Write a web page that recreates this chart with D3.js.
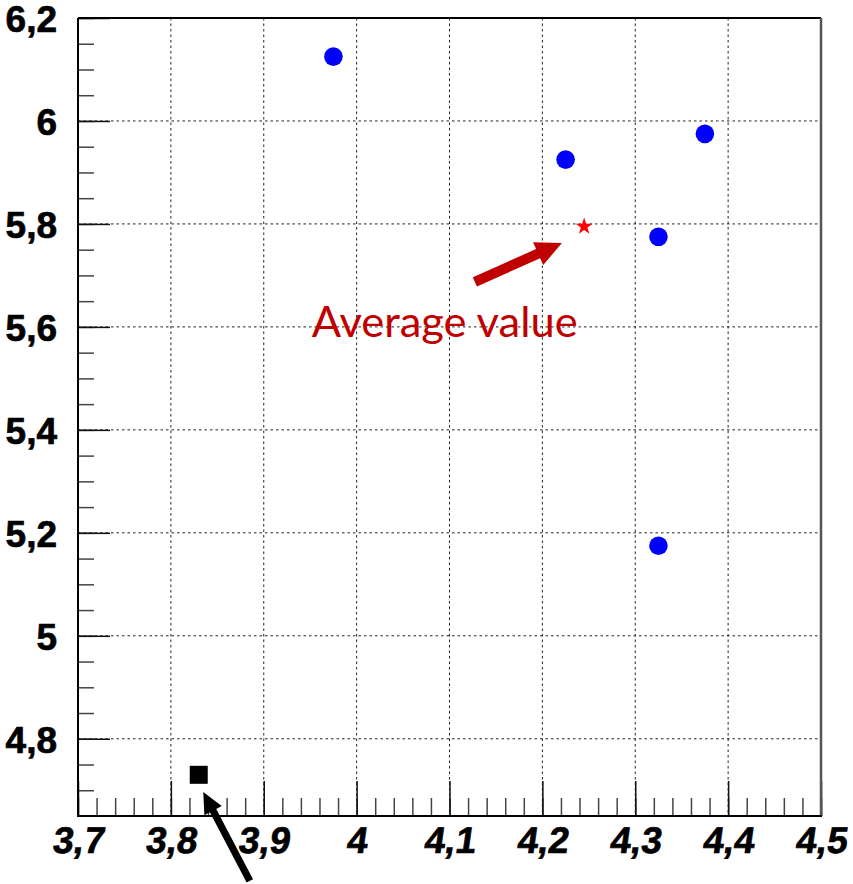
<!DOCTYPE html>
<html>
<head>
<meta charset="utf-8">
<script src="https://cdn.jsdelivr.net/npm/d3@7"></script>
<style>
  html, body { margin: 0; padding: 0; background: #fff; }
  svg { display: block; }
</style>
</head>
<body>
<svg id="chart" width="853" height="884"></svg>
<script>
// Measured points (blue), reference point (black square)
const pointsX = [3.975, 4.225, 4.375, 4.325, 4.325];
const pointsY = [6.125, 5.925, 5.975, 5.775, 5.175];
const refX = [3.83];
const refY = [4.73];

// Axis ranges and tick values
const xDomain = [3.7, 4.5];
const yDomain = [4.65, 6.2];
const xTicks = [3.7, 3.8, 3.9, 4.0, 4.1, 4.2, 4.3, 4.4, 4.5];
const yTicks = [4.8, 5.0, 5.2, 5.4, 5.6, 5.8, 6.0, 6.2];
const xMinorTicks = d3.range(0, 41).map(i => 3.7 + i * 0.02);
const yMinorTicks = d3.range(0, 32).map(i => 4.65 + i * 0.05);

// Annotation: label and arrows (data coordinates)
const avgLabel = ["Average value"];
const avgLabelPos = [3.9516, 5.581];
const redArrow = { from: [4.1273, 5.6874], to: [4.221, 5.763] };
const blackArrow = { from: [3.885, 4.524], to: [3.8349, 4.6965] };

const svg = d3.select("#chart");
const plotL = 78, plotR = 821, plotT = 18, plotB = 816;

const x = d3.scaleLinear().domain(xDomain).range([plotL, plotR]);
const y = d3.scaleLinear().domain(yDomain).range([plotB, plotT]);
const fmt = d => String(+d.toFixed(2)).replace(".", ",");

// Grid (dotted)
const grid = svg.append("g").attr("stroke", "#222").attr("stroke-width", 1)
  .attr("stroke-dasharray", "2.5,3");
grid.selectAll("line.v").data(xTicks.slice(1, -1)).join("line")
  .attr("class", "v")
  .attr("x1", d => x(d)).attr("x2", d => x(d))
  .attr("y1", plotT).attr("y2", plotB);
grid.selectAll("line.h").data(yTicks.slice(0, -1)).join("line")
  .attr("class", "h")
  .attr("x1", plotL).attr("x2", plotR)
  .attr("y1", d => y(d)).attr("y2", d => y(d));

// Minor ticks
svg.append("g").attr("transform", `translate(0,${plotB})`)
  .call(d3.axisBottom(x).tickValues(xMinorTicks).tickSize(-18).tickFormat(""))
  .call(g => g.select(".domain").remove())
  .call(g => g.selectAll("line").attr("stroke", "#444").attr("stroke-width", 1.5));
svg.append("g").attr("transform", `translate(${plotL},0)`)
  .call(d3.axisLeft(y).tickValues(yMinorTicks.filter(v => v > 4.66)).tickSize(-16).tickFormat(""))
  .call(g => g.select(".domain").remove())
  .call(g => g.selectAll("line").attr("stroke", "#444").attr("stroke-width", 1.5));

// Major ticks and labels
const labelStyle = sel => sel
  .attr("fill", "#000").attr("stroke", "#000").attr("stroke-width", 0.7)
  .style("font-family", "'Liberation Sans', Arial, sans-serif")
  .style("font-weight", "bold").style("font-size", "37px");

const xAxis = svg.append("g").attr("transform", `translate(0,${plotB})`)
  .call(d3.axisBottom(x).tickValues(xTicks).tickSize(-35).tickFormat(fmt))
  .call(g => g.select(".domain").remove());
xAxis.selectAll("line").attr("stroke", "#111").attr("stroke-width", 1.5);
xAxis.selectAll("text")
  .attr("y", 0).attr("dy", null)
  .attr("transform", "translate(-1,37) skewX(-8)")
  .call(labelStyle);

const yAxis = svg.append("g").attr("transform", `translate(${plotL},0)`)
  .call(d3.axisLeft(y).tickValues(yTicks).tickSize(-32).tickPadding(21).tickFormat(fmt))
  .call(g => g.select(".domain").remove());
yAxis.selectAll("line").attr("stroke", "#111").attr("stroke-width", 1.5);
yAxis.selectAll("text")
  .attr("dy", "0.36em")
  .call(labelStyle);

// Frame
svg.append("line").attr("x1", plotL).attr("x2", plotR).attr("y1", plotT).attr("y2", plotT)
  .attr("stroke", "#000").attr("stroke-width", 2);
svg.append("line").attr("x1", plotR).attr("x2", plotR).attr("y1", plotT).attr("y2", plotB)
  .attr("stroke", "#555").attr("stroke-width", 2.5);
svg.append("line").attr("x1", plotL).attr("x2", plotL).attr("y1", plotT).attr("y2", plotB + 1)
  .attr("stroke", "#000").attr("stroke-width", 2);
svg.append("line").attr("x1", plotL).attr("x2", plotR + 1).attr("y1", plotB).attr("y2", plotB)
  .attr("stroke", "#000").attr("stroke-width", 2);

// Measured points
svg.append("g").selectAll("circle").data(d3.range(pointsX.length)).join("circle")
  .attr("cx", i => x(pointsX[i])).attr("cy", i => y(pointsY[i]))
  .attr("r", 9.3).attr("fill", "#0000ff");

// Reference point
svg.append("g").selectAll("path").data(d3.range(refX.length)).join("path")
  .attr("transform", i => `translate(${x(refX[i])},${y(refY[i])})`)
  .attr("d", d3.symbol(d3.symbolSquare, 324)).attr("fill", "#000");

// Average of the measured points
const avgX = d3.mean(pointsX), avgY = d3.mean(pointsY);
svg.append("path")
  .attr("transform", `translate(${x(avgX)},${y(avgY)})`)
  .attr("d", d3.symbol(d3.symbolStar, 90)).attr("fill", "#ff0000");

// Arrow polygon builder
function arrowPath(a, shaftHalf, headLen, headHalf) {
  const x0 = x(a.from[0]), y0 = y(a.from[1]);
  const x1 = x(a.to[0]), y1 = y(a.to[1]);
  const L = Math.hypot(x1 - x0, y1 - y0);
  const ux = (x1 - x0) / L, uy = (y1 - y0) / L;
  const nx = -uy, ny = ux;
  const bx = x1 - ux * headLen, by = y1 - uy * headLen;
  const pts = [
    [x0 + nx * shaftHalf, y0 + ny * shaftHalf],
    [bx + nx * shaftHalf, by + ny * shaftHalf],
    [bx + nx * headHalf, by + ny * headHalf],
    [x1, y1],
    [bx - nx * headHalf, by - ny * headHalf],
    [bx - nx * shaftHalf, by - ny * shaftHalf],
    [x0 - nx * shaftHalf, y0 - ny * shaftHalf]
  ];
  return d3.line()(pts) + "Z";
}

svg.append("path").attr("d", arrowPath(redArrow, 5, 26, 12.5)).attr("fill", "#c00000");
svg.append("path").attr("d", arrowPath(blackArrow, 3.6, 21, 9.8)).attr("fill", "#000");

svg.append("text")
  .attr("x", x(avgLabelPos[0])).attr("y", y(avgLabelPos[1]))
  .attr("fill", "#c00000")
  .attr("textLength", 266).attr("lengthAdjust", "spacingAndGlyphs")
  .style("font-family", "Lato, 'Open Sans', sans-serif")
  .style("font-size", "42px")
  .text(avgLabel[0]);
</script>
</body>
</html>
